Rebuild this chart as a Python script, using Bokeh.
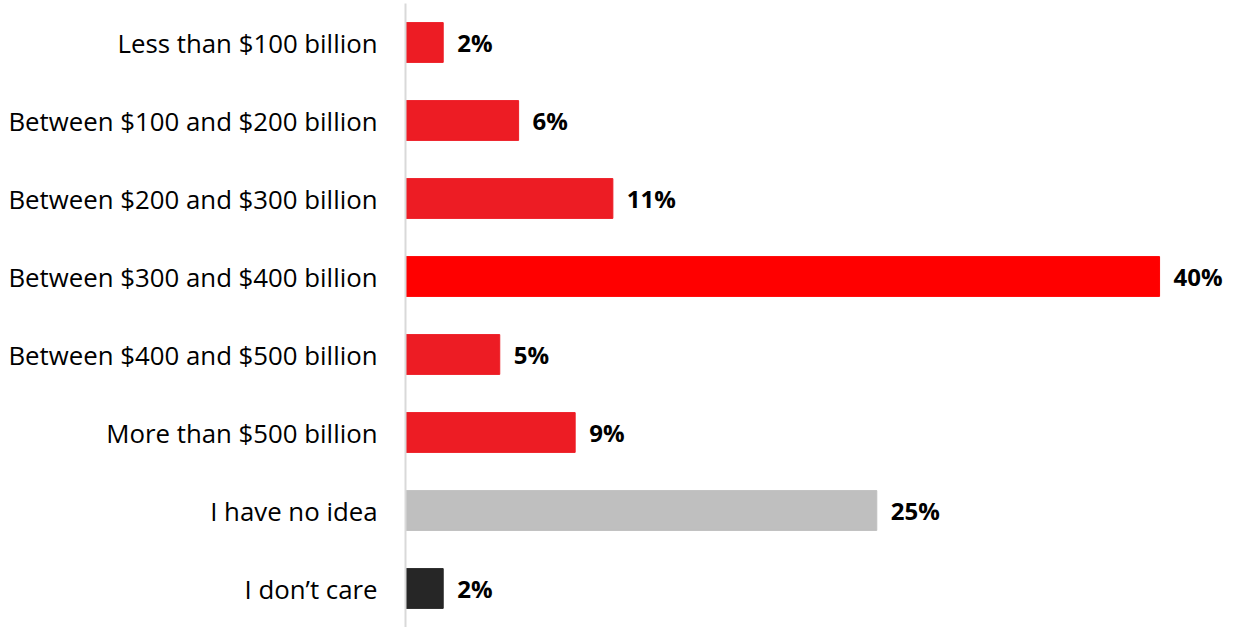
from bokeh.plotting import figure
from bokeh.models import ColumnDataSource, FactorRange, Range1d, LabelSet
from bokeh.core.properties import value
from bokeh.embed import file_html
from bokeh.resources import INLINE

categories = ["Less than $100 billion", "Between $100 and $200 billion",
              "Between $200 and $300 billion", "Between $300 and $400 billion",
              "Between $400 and $500 billion", "More than $500 billion",
              "I have no idea", "I don\u2019t care"]
values = [2, 6, 11, 40, 5, 9, 25, 2]
colors = ["#ED1C24", "#ED1C24", "#ED1C24", "#FF0000", "#ED1C24", "#ED1C24", "#BFBFBF", "#262626"]
labels = [f"{v}%" for v in values]

src = ColumnDataSource(dict(cat=categories, val=values, color=colors, label=labels))

p = figure(width=1239, height=627, output_backend="svg", toolbar_location=None,
           y_range=FactorRange(*reversed(categories), range_padding=0),
           x_range=Range1d(0, 44.24),
           min_border_left=405, min_border_right=0, min_border_top=3, min_border_bottom=0)

p.hbar(y="cat", right="val", left=0, height=0.51, color="color", source=src)

p.add_layout(LabelSet(x="val", y="cat", text="label", source=src, x_offset=14,
                      text_baseline="middle", text_font=value("Open Sans"), text_font_style="bold",
                      text_font_size="24px", text_color="#000000"))

p.xaxis.visible = False
p.xgrid.visible = False
p.ygrid.visible = False
p.outline_line_color = None
p.yaxis.axis_line_color = "#D9D9D9"
p.yaxis.axis_line_width = 2
p.yaxis.major_tick_line_color = None
p.yaxis.minor_tick_line_color = None
p.yaxis.major_label_text_font = "Open Sans"
p.yaxis.major_label_text_font_size = "25.8px"
p.yaxis.major_label_text_color = "#000000"
p.yaxis.major_label_standoff = 22

open("out.html", "w").write(file_html(p, INLINE))
